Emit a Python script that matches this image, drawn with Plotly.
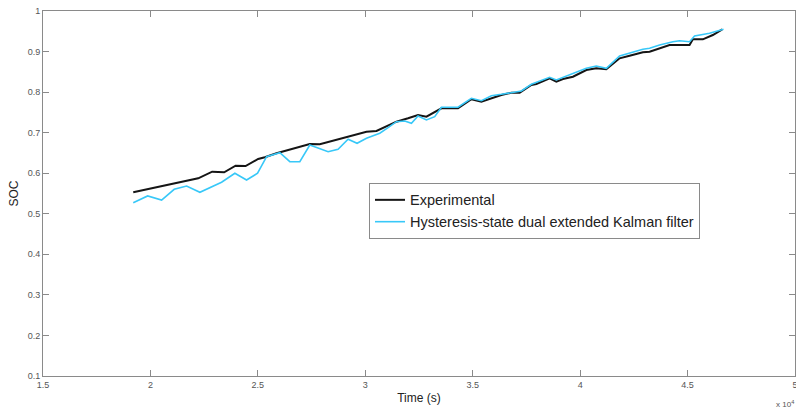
import plotly.graph_objects as go

# Experimental SOC
exp_t = [19200, 22223, 22874, 23432, 23963, 24428, 25014, 25325, 25869, 27418, 27883,
         30055, 30520, 31451, 31990, 32455, 32846, 33544, 34316, 34939, 35404, 36334,
         36799, 37186, 37730, 37963, 38581, 38893, 39200, 39665, 40287, 40752, 41218,
         41836, 42301, 42920, 43232, 43697, 44162, 45092, 45246, 45711, 46176, 46613]
exp_soc = [0.553, 0.5875, 0.6038, 0.6023, 0.6186, 0.6178, 0.6351, 0.6393, 0.6492, 0.6721, 0.6714,
           0.7024, 0.7041, 0.7271, 0.7354, 0.7436, 0.7394, 0.7601, 0.7601, 0.7823, 0.7764, 0.7929,
           0.7986, 0.7986, 0.8176, 0.8200, 0.8341, 0.8257, 0.8323, 0.8380, 0.8545, 0.8587, 0.8563,
           0.8834, 0.8898, 0.8982, 0.8997, 0.9080, 0.9162, 0.9162, 0.9302, 0.9302, 0.9408, 0.9549]

# Hysteresis-state dual extended Kalman filter estimate
ekf_t = [19200, 19870, 20521, 21107, 21684, 22302, 23311, 23930, 24474, 24986, 25325, 25404,
         26023, 26488, 26953, 27418, 28269, 28734, 29199, 29618, 30055, 30674, 31060, 31451,
         31837, 32148, 32455, 32846, 33232, 33544, 34316, 34939, 35404, 35869, 36334, 36799,
         37264, 37730, 38581, 38893, 39665, 40287, 40752, 41218, 41836, 42301, 42920, 43232,
         43697, 44316, 44627, 45092, 45325, 46022, 46673]
ekf_soc = [0.5274, 0.5439, 0.5340, 0.5604, 0.5685, 0.5530, 0.5777, 0.5999, 0.5833, 0.5999, 0.6326, 0.6408,
           0.6506, 0.6284, 0.6284, 0.6696, 0.6531, 0.6590, 0.6837, 0.6738, 0.6861, 0.6985, 0.7123, 0.7271,
           0.7288, 0.7231, 0.7411, 0.7313, 0.7394, 0.7626, 0.7626, 0.7848, 0.7788, 0.7912, 0.7946, 0.7996,
           0.8028, 0.8193, 0.8365, 0.8299, 0.8464, 0.8587, 0.8644, 0.8587, 0.8891, 0.8957, 0.9056, 0.9080,
           0.9162, 0.9243, 0.9268, 0.9243, 0.9384, 0.9450, 0.9549]

x_tickvals = [15000, 20000, 25000, 30000, 35000, 40000, 45000, 50000]
x_ticktext = ["1.5", "2", "2.5", "3", "3.5", "4", "4.5", "5"]
y_tickvals = [0.1, 0.2, 0.3, 0.4, 0.5, 0.6, 0.7, 0.8, 0.9, 1.0]
y_ticktext = ["0.1", "0.2", "0.3", "0.4", "0.5", "0.6", "0.7", "0.8", "0.9", "1"]

FONT = "Liberation Sans, Arial, sans-serif"

fig = go.Figure()
fig.add_trace(go.Scatter(x=exp_t, y=exp_soc, mode="lines", name="Experimental",
                         line=dict(color="#151515", width=2)))
fig.add_trace(go.Scatter(x=ekf_t, y=ekf_soc, mode="lines",
                         name="Hysteresis-state dual extended Kalman filter",
                         line=dict(color="#38c8f8", width=1.6)))

axis_common = dict(showline=True, linecolor="#8a8a8a", linewidth=1, mirror="ticks",
                   ticks="inside", ticklen=6, tickcolor="#8a8a8a", showgrid=False,
                   zeroline=False, automargin=False, ticklabeloverflow="allow",
                   tickfont=dict(family=FONT, size=9, color="#555555"))

fig.update_layout(
    width=796, height=408,
    margin=dict(l=43, r=1, t=11, b=32),
    paper_bgcolor="white", plot_bgcolor="white",
    font=dict(family=FONT, color="#222222"),
    xaxis=dict(range=[15000, 50000], tickvals=x_tickvals, ticktext=x_ticktext,
               title=dict(text="Time (s)", font=dict(family=FONT, size=12, color="#222222"), standoff=4),
               **axis_common),
    yaxis=dict(range=[0.1, 1.0], tickvals=y_tickvals, ticktext=y_ticktext,
               title=dict(text="SOC", font=dict(family=FONT, size=12, color="#222222"), standoff=6),
               **axis_common),
    legend=dict(x=0.4335, y=0.529, xanchor="left", yanchor="top",
                bgcolor="white", bordercolor="#8a8a8a", borderwidth=1,
                font=dict(family=FONT, size=14.5, color="#222222"),
                tracegroupgap=0, itemwidth=30),
    showlegend=True,
)

fig.add_annotation(text="x 10<sup>4</sup>", xref="paper", yref="paper", x=1.0013, y=-0.078,
                   xanchor="right", yanchor="middle", showarrow=False,
                   font=dict(family=FONT, size=8, color="#555555"))

fig.write_html("out.html", config={"displayModeBar": False},
               post_script="document.body.style.margin='0';document.body.style.overflow='hidden';")
